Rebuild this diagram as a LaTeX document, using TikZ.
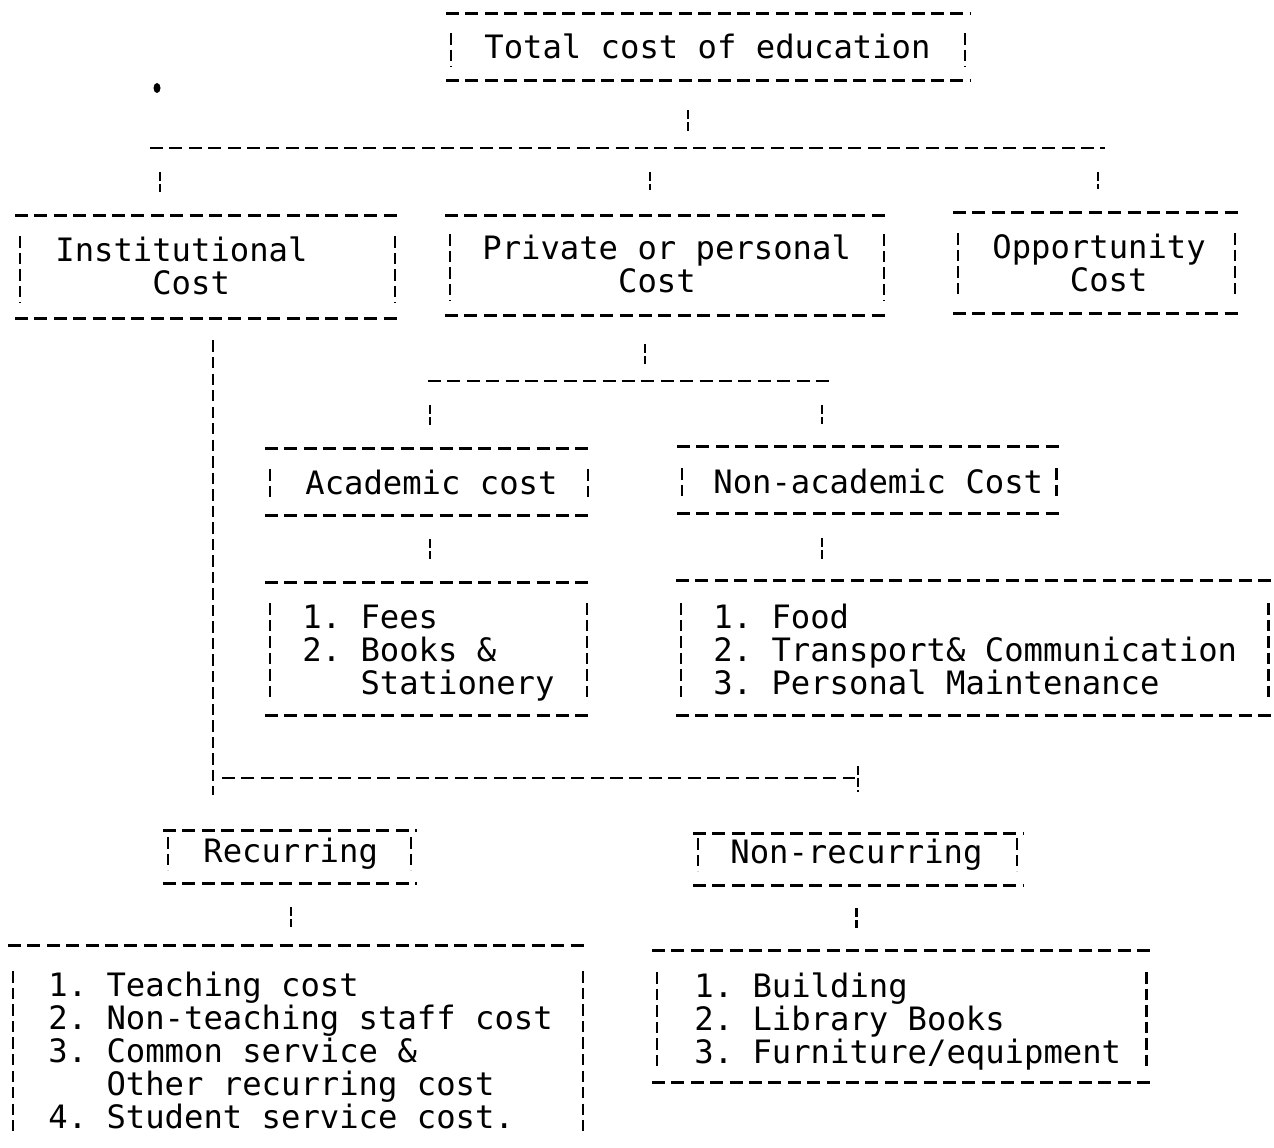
\documentclass[tikz,border=0pt]{standalone}
\usepackage{fontspec}
\usepackage{tikz}
\usetikzlibrary{calc}
\newfontfamily\twfont{DejaVu Sans Mono}
\newcommand\tw{\twfont\fontsize{18.34pt}{18.78pt}\selectfont\frenchspacing}
\newcommand\fs{\vrule width 0pt height 14pt depth 4.4pt}
\newlength\cwd
\setlength\cwd{11.04pt}
\newcommand\ind[1]{\hspace*{#1\cwd}}
\newcommand\tframe[5]{%
  \draw[hdash] ($(#1.north west)+(-#2,-#4)$) -- ($(#1.north east)+(#3,-#4)$);
  \draw[hdash] ($(#1.south west)+(-#2,#5)$) -- ($(#1.south east)+(#3,#5)$);
  \draw[vdash] ($(#1.north west)+(5-#2,0)$) -- ($(#1.south west)+(5-#2,0)$);
  \draw[vdash] ($(#1.north east)+(#3-6,0)$) -- ($(#1.south east)+(#3-6,0)$);}

\begin{document}
\begin{tikzpicture}[x=0.02cm, y=-0.02cm,
  tbox/.style={font=\tw, align=left, inner sep=0pt, anchor=north west},
  hdash/.style={line width=1.5pt, dash pattern=on 7.4pt off 3.64pt},
  vdash/.style={line width=1.2pt, dash pattern=on 6.5pt off 2.9pt},
  link/.style={line width=1.2pt, dash pattern=on 5.1pt off 1.7pt},
  ulink/.style={link, shorten <=0.88cm, shorten >=0.34cm},
  dlink/.style={link, shorten <=0.48cm, shorten >=0.88cm},
  blink/.style={link, shorten <=0.74cm, shorten >=0.88cm}]
\useasboundingbox (0,0) rectangle (1274,1148);

\node[tbox] (total) at (484,33.4) {\fs Total cost of education};
\node[tbox] (inst) at (55,236.4) {\fs Institutional\\\fs\ind{5}Cost};
\node[tbox] (priv) at (482,234.4) {\fs Private or personal\\\fs\ind{7}Cost};
\node[tbox] (opp) at (992,233.4) {\fs Opportunity\\\fs\ind{4}Cost};
\node[tbox] (acad) at (305,469.4) {\fs Academic cost};
\node[tbox] (nonac) at (713,468.4) {\fs Non-academic Cost};
\node[tbox] (fees) at (302,603.4) {\fs 1. Fees\\2. Books \&\\\fs\ind{3}Stationery};
\node[tbox] (nonacl) at (713,603.4) {\fs 1. Food\\2. Transport\& Communication\\\fs 3. Personal Maintenance};
\node[tbox] (rec) at (203,837.4) {\fs Recurring};
\node[tbox] (nonrec) at (730,838.4) {\fs Non-recurring};
\node[tbox] (recl) at (48,971.4) {\fs 1. Teaching cost\\2. Non-teaching staff cost\\3. Common service \&\\\ind{3}Other recurring cost\\\fs 4. Student service cost.};
\node[tbox] (nonrecl) at (694,972.4) {\fs 1. Building\\2. Library Books\\\fs 3. Furniture/equipment};

\tframe{total}{38}{40}{20}{14}
\tframe{inst}{40}{93}{21}{16}
\tframe{priv}{37}{39}{19}{15}
\tframe{opp}{39}{35}{21}{14}
\tframe{acad}{40}{36}{21}{13}
\tframe{nonac}{36}{19}{22}{12}
\tframe{fees}{37}{38}{21}{13}
\tframe{nonacl}{37}{37}{23}{13}
\tframe{rec}{40}{39}{7}{13}
\tframe{nonrec}{37}{40}{5}{14}
\tframe{recl}{40}{36}{26}{14}
\tframe{nonrecl}{42}{31}{22}{11}

\coordinate (b1w) at (150,148);
\coordinate (b1e) at (1105,148);
\coordinate (j0) at (688,148);
\coordinate (j1) at (160,148);
\coordinate (j2) at (650,148);
\coordinate (j3) at (1098,148);
\draw[hdash] (b1w) -- (b1e);
\draw[ulink] (total.south -| j0) -- (j0);
\draw[dlink] (j1) -- (j1 |- inst.north);
\draw[dlink] (j2) -- (j2 |- priv.north);
\draw[dlink] (j3) -- (j3 |- opp.north);

\coordinate (b2w) at (428,381);
\coordinate (b2e) at (830,381);
\coordinate (k0) at (645,381);
\coordinate (k1) at (430,381);
\coordinate (k2) at (822,381);
\draw[hdash] (b2w) -- (b2e);
\draw[ulink] (priv.south -| k0) -- (k0);
\draw[dlink] (k1) -- (k1 |- acad.north);
\draw[dlink] (k2) -- (k2 |- nonac.north);
\draw[blink] (k1 |- acad.south) -- (k1 |- fees.north);
\draw[blink] (k2 |- nonac.south) -- (k2 |- nonacl.north);

\coordinate (m0) at (213,778);
\coordinate (m1) at (858,778);
\draw[vdash, shorten <=0.76cm, shorten >=0.84cm] (m0 |- inst.south) -- (m0 |- rec.north);
\draw[hdash, shorten <=0.18cm, shorten >=0.06cm] (m0) -- (m1);
\draw[link, shorten <=-0.24cm, shorten >=0.92cm] (m1) -- (m1 |- nonrec.north);
\draw[blink] (rec.south) -- (rec.south |- recl.north);
\draw[blink] (nonrec.south) -- (nonrec.south |- nonrecl.north);

\fill (157,88) ellipse [x radius=0.07cm, y radius=0.1cm];
\end{tikzpicture}
\end{document}
